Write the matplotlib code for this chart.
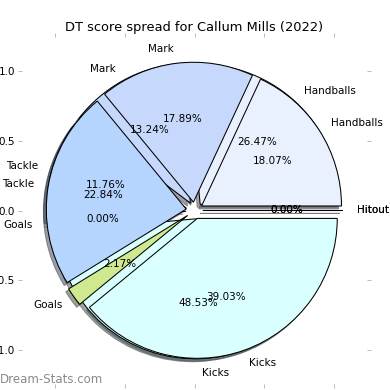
import matplotlib.pyplot as plt

# DT score breakdown, two overlaid pies
categories = ['Handballs', 'Mark', 'Tackle', 'Goals', 'Kicks', 'Hitout']
share_a = [18.07, 17.89, 22.84, 2.17, 39.03, 0.0]
share_b = [26.47, 13.24, 11.76, 0.0, 48.53, 0.0]
colors = ['#e9f0fe', '#c6d9fd', '#b5d4fe', '#d0e88f', '#d9ffff', '#f0f0f0']
explode = [0.06] * 6
ticks = [-1.0, -0.5, 0.0, 0.5, 1.0]

fig = plt.figure(figsize=(5.2, 5.2), dpi=75)
ax = fig.add_axes([22 / 390, 6 / 390, 345 / 390, 347 / 390])

wedge_style = {'edgecolor': 'black', 'linewidth': 1}
ax.pie(share_b, labels=categories, colors=colors, explode=explode,
       autopct='%.2f%%', shadow=True, wedgeprops=wedge_style)
ax.pie(share_a, labels=categories, colors=colors, explode=explode,
       autopct='%.2f%%', shadow=True, wedgeprops=wedge_style)

ax.set_frame_on(False)
ax.set_xlim(-1.232, 1.232)
ax.set_ylim(-1.24, 1.24)
ax.set_xticks(ticks)
ax.set_yticks(ticks)
ax.tick_params(top=True, right=True, color='#b0b0b0', length=3.5)
ax.set_title('DT score spread for Callum Mills (2022)', fontsize=12.5)

fig.text(0.0, 0.026, 'Dream-Stats.com', fontsize=11.3, color='#8a8a8a',
         ha='left', va='center')

fig.savefig('out.png', dpi=75)
